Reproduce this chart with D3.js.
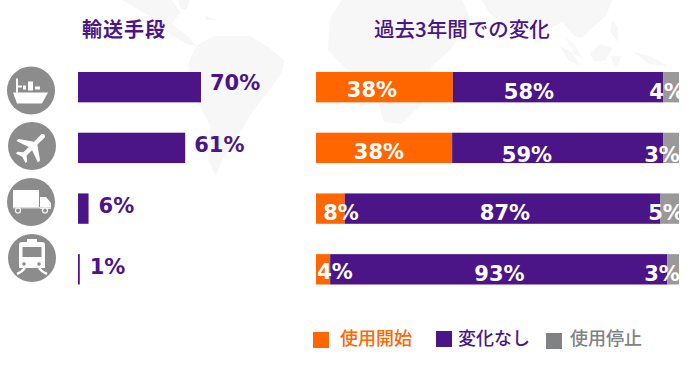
<!DOCTYPE html>
<html><head><meta charset="utf-8">
<script src="https://cdn.jsdelivr.net/npm/d3@7"></script>
<style>html,body{margin:0;padding:0;background:#fff}svg{display:block}
text{font-family:"DejaVu Sans","Noto Sans CJK JP",sans-serif;font-weight:700}
.jp{font-family:"Noto Sans CJK JP",sans-serif;font-weight:500}</style></head><body>
<div id="c"></div>
<script>
const modes = ["ship","plane","truck","train"];
const shares = [70,61,6,1];
const started = [37.7,37.5,7.9,3.9];
const unchanged = [58,58.2,87,92.9];
const stopped = [4.3,4.3,5.1,3.2];
const startedLabels = ["38%","38%","8%","4%"];
const unchangedLabels = ["58%","59%","87%","93%"];
const stoppedLabels = ["4%","3%","5%","3%"];
const seriesNames = ["使用開始","変化なし","使用停止"];
const colors = ["#ff6600","#4b1587","#999999"];
const titles = ["輸送手段","過去3年間での変化"];

const W=700,H=365, purple=colors[1], grey="#8c8c8c";
const svg=d3.select("#c").append("svg").attr("width",W).attr("height",H);

// faint world map backdrop
const land=[
"M122,0L172,0L180,12L172,24L190,38L196,46L186,44L170,34L150,16Z",
"M178,0L190,0L186,10L180,8Z",
"M205,16L218,20L206,20Z",
"M196,46L214,36L250,36L270,48L284,60L282,72L268,92L252,112L236,140L222,160L216,176L208,160L210,125L192,92L188,65Z",
"M342,0L462,0L470,18L452,48L430,68L426,100L402,124L384,122L372,82L345,68L328,50L330,18Z",
"M482,0L612,0L606,16L590,30L582,38L574,36L562,22L548,30L538,44L528,28L505,24L490,14Z",
"M566,38L574,44L582,58L574,54Z",
"M560,46L572,52L580,66L568,60Z",
"M590,54L600,44L612,48L606,60L594,62Z",
"M610,56L622,56L616,68Z",
"M634,52L650,56L668,66L650,64Z",
"M612,20L618,28L618,42L610,32Z"];
svg.append("g").selectAll("path").data(land).join("path").attr("d",d=>d).attr("fill","#f7f7f8");

const y=d3.scaleBand().domain(modes).range([72,284.5]).paddingInner(0.5).paddingOuter(0);
const xL=d3.scaleLinear().domain([0,70]).range([78,201]);
const xR=d3.scaleLinear().domain([0,100]).range([316,679]);

// titles
svg.append("text").attr("class","jp").style("font-weight",700).attr("x",82).attr("y",37).attr("font-size",20).attr("fill",purple).attr("letter-spacing",1).text(titles[0]);
svg.append("text").attr("class","jp").attr("x",374).attr("y",37).attr("font-size",20.5).attr("fill",purple).text(titles[1]);

// left bars
svg.append("g").selectAll("rect").data(modes).join("rect")
 .attr("x",xL(0)).attr("y",d=>y(d)).attr("height",y.bandwidth())
 .attr("width",(d,i)=>xL(shares[i])-xL(0)).attr("fill",purple);
const dyL=[18,19,20,20], dxL=[9,9,10,10];
svg.append("g").selectAll("text").data(modes).join("text")
 .attr("x",(d,i)=>xL(shares[i])+dxL[i]).attr("y",(d,i)=>y(d)+dyL[i])
 .attr("font-size",21).attr("fill",purple).text((d,i)=>shares[i]+"%");

// stacked bars
const rows=modes.map((m,i)=>({m,vals:[started[i],unchanged[i],stopped[i]],labs:[startedLabels[i],unchangedLabels[i],stoppedLabels[i]]}));
const lx=[[372,529,667],[379,527,662],[341,505,666],[335,499.5,662]];
const ly=[[97,99],[159,162],[220,220],[279,281]];
rows.forEach(r=>{
  let acc=0;
  r.vals.forEach((v,j)=>{
    svg.append("rect").attr("x",xR(acc)).attr("y",y(r.m)).attr("height",y.bandwidth()).attr("width",xR(acc+v)-xR(acc)).attr("fill",colors[j]);
    acc+=v;
  });
});
svg.append("clipPath").attr("id","cl").append("rect").attr("x",300).attr("y",0).attr("width",379).attr("height",H);
const lab=svg.append("g").attr("clip-path","url(#cl)");
rows.forEach((r,i)=>r.labs.forEach((t,j)=>{
  lab.append("text").attr("x",lx[i][j]).attr("y",j==0?ly[i][0]:ly[i][1]).attr("text-anchor","middle")
   .attr("font-size",21).attr("fill","#fff").text(t);
}));

// legend
const lgX=[313,436,546], tX=[340,458,570], tC=["#ff6600",purple,"#808285"];
seriesNames.forEach((n,i)=>{
  svg.append("rect").attr("x",lgX[i]).attr("y",i==0?332:i==1?331:333).attr("width",16).attr("height",16).attr("fill",tC[i]);
  svg.append("text").attr("class","jp").attr("x",tX[i]).attr("y",345).attr("font-size",18).attr("fill",tC[i]).text(n);
});

// icons
const iconC=[[31,90.5],[32,146],[31,202],[32,258]];
const g=svg.append("g");
iconC.forEach(c=>g.append("circle").attr("cx",c[0]).attr("cy",c[1]).attr("r",24).attr("fill",grey));
const wh="#fff";
const ship=g.append("g").attr("transform","translate(31,90.5)");
ship.append("path").attr("d","M-18,2L17,2L11,13L-14,13Z").attr("fill",wh);
ship.append("path").attr("d","M-15,-12h2v7h4v2h-4v5h-2z").attr("fill",wh);
[[-8,-5,3,4],[-3,-9,5,9],[4,-4,5,3]].forEach(a=>ship.append("rect").attr("x",a[0]).attr("y",a[1]).attr("width",a[2]).attr("height",a[3]).attr("fill",wh));
g.append("g").attr("transform","translate(32,147) rotate(45) scale(0.76)").append("path").attr("fill",wh)
 .attr("d","M-3,-21Q0,-25 3,-21L3,-7L20,5L20,9L3,3L3,13L9,18L9,21L0,18L-9,21L-9,18L-3,13L-3,3L-20,9L-20,5L-3,-7Z");
const tr=g.append("g").attr("transform","translate(31,202)");
tr.append("rect").attr("x",-18).attr("y",-12).attr("width",26).attr("height",17).attr("fill",wh);
tr.append("path").attr("d","M9,-5h6l5,6v6h-11z").attr("fill",wh);
tr.append("rect").attr("x",-18).attr("y",5).attr("width",38).attr("height",1.5).attr("fill","#dcdcdc");
[[-13,8.5],[14,8.5]].forEach(a=>tr.append("circle").attr("cx",a[0]).attr("cy",a[1]).attr("r",2.5).attr("fill",grey).attr("stroke",wh).attr("stroke-width",1.2));
const rl=g.append("g").attr("transform","translate(32,258)");
rl.append("path").attr("d","M-13,-13Q-13,-16 -10,-16L10,-16Q13,-16 13,-13L13,10L-13,10Z").attr("fill",wh);
rl.append("rect").attr("x",-5).attr("y",-19).attr("width",10).attr("height",3).attr("fill",wh);
rl.append("rect").attr("x",-9.5).attr("y",-11).attr("width",19).attr("height",10).attr("fill",grey);
[-8,7].forEach(a=>rl.append("circle").attr("cx",a).attr("cy",6).attr("r",1.8).attr("fill",grey));
rl.append("path").attr("d","M-15,16Q-10,14 -7,10M15,16Q10,14 7,10").attr("fill","none").attr("stroke",wh).attr("stroke-width",2.5);
</script></body></html>
